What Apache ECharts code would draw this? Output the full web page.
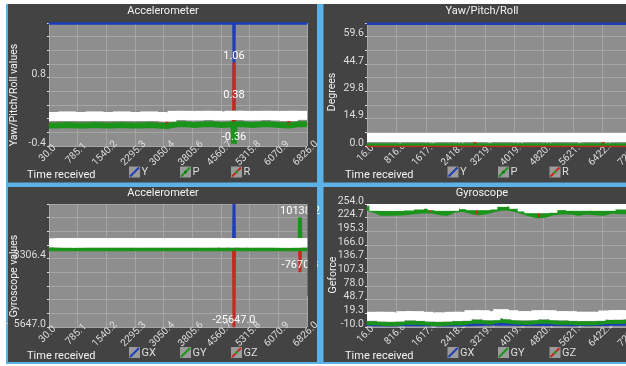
<!DOCTYPE html>
<html><head><meta charset="utf-8">
<script src="https://cdn.jsdelivr.net/npm/echarts@6/dist/echarts.min.js"></script>
<style>html,body{margin:0;padding:0;background:#fff}#c{width:626px;height:366px}</style>
</head><body><div id="c"></div><script>
// ---- tick labels ----
const accTicksX = ['30.0','785.1','1540.2','2295.3','3050.4','3805.6','4560.7','5315.8','6070.9','6826.0'];
const yprTicksX = ['16.0','816.8','1617.6','2418.3','3219.1','4019.9','4820.7','5621.4','6422.2','7223.0'];
const accTicksY = ['-0.4','','','','','0.8','','','',''];
const yprTicksY = ['0.0','','14.9','','29.8','','44.7','','59.6',''];
const gyroTicksY = ['-25647.0','','','','','-3306.4','','','',''];
const geTicksY = ['-10.0','19.3','48.7','78.0','107.3','136.7','166.0','195.3','224.7','254.0'];

// ---- accelerometer: yaw / pitch / roll values ----
const accYaw = [[30,1.75],[4890,1.75],[4903,0.38],[4916,1.75],[6826,1.75]];
const accRoll = [[30,-0.02],[3120,-0.02],[3138,0.04],[3156,-0.02],[4890,-0.02],[4903,1.06],[4916,-0.02],[6335,-0.02],[6352,0.04],[6370,-0.02],[6826,-0.02]];
const accPitch = [[30,-0.04],[270,-0.04],[510,-0.03],[750,-0.04],[990,-0.04],[1230,-0.03],[1470,-0.04],[1710,-0.04],[1950,-0.03],[2190,-0.04],[2430,-0.04],[2670,-0.03],[2910,-0.04],[3150,-0.05],[3390,-0.02],[3630,-0.02],[3870,-0.03],[4110,-0.02],[4350,-0.02],[4590,-0.03],[4890,-0.02],[4903,-0.36],[4916,-0.02],[5150,-0.02],[5390,-0.03],[5630,-0.02],[5870,-0.02],[6110,-0.03],[6350,-0.04],[6590,-0.02],[6826,-0.02]];

// ---- yaw / pitch / roll in degrees ----
const degYaw = [[16,66.7],[7223,66.7]];
const degRoll = [[16,0.3],[2930,0.3],[2953,2.0],[2976,0.3],[6410,0.3],[6434,2.0],[6458,0.3],[7223,0.3]];
const degPitch = [[16,0.8],[280,0.8],[540,0.8],[800,0.8],[1060,0.8],[1320,0.8],[1580,0.8],[1840,0.8],[2100,0.8],[2360,0.8],[2620,0.8],[2880,0.8],[3140,0.8],[3400,0.8],[3660,0.8],[3920,0.8],[4180,0.8],[4440,0.8],[4700,0.8],[4960,0.8],[5220,0.8],[5480,0.8],[5740,0.8],[6000,0.8],[6260,0.8],[6520,0.8],[6780,0.8],[7040,0.8],[7223,0.8]];

// ---- gyroscope values ----
const gyroX = [[30,-300],[4890,-300],[4903,14566.08],[4916,-300],[6826,-300]];
const gyroZ = [[30,-200],[3120,-200],[3138,300],[3156,-200],[4890,-200],[4903,-25647.0],[4916,-200],[6310,-200],[6325,300],[6340,-200],[6630,-200],[6642,-7670.3],[6654,-200],[6826,-200]];
const gyroY = [[30,-250],[270,-250],[510,-250],[750,-250],[990,-250],[1230,-250],[1470,-250],[1710,-250],[1950,-250],[2190,-250],[2430,-250],[2670,-250],[2910,-250],[3150,-250],[3390,-250],[3630,-250],[3870,-250],[4110,-250],[4350,-250],[4590,-250],[4890,-250],[5150,-250],[5390,-250],[5630,-250],[5870,-250],[6110,-250],[6350,-250],[6630,-250],[6642,10138.2],[6654,-250],[6826,-250]];

// ---- g-force traces ----
const gHighGreen = [[16,245.4],[188,241.1],[415,234.0],[687,234.0],[959,234.7],[1231,236.8],[1503,239.0],[1775,239.0],[2001,235.4],[2183,234.0],[2409,241.1],[2636,242.5],[2863,237.5],[3044,235.4],[3225,236.8],[3497,242.5],[3769,246.1],[3996,243.3],[4222,238.3],[4449,232.5],[4630,228.9],[4857,229.7],[5083,235.4],[5310,236.8],[5537,237.5],[5763,234.0],[5990,236.8],[6217,235.4],[6443,234.0],[6670,239.0],[6897,237.5],[7123,237.5],[7223,237.5]];
// short red stretches that show above the green trace (null = gap)
const gHighRed = [[1700,241.5],[1729,243.0],[1758,241.5],[1759,null],[2980,235.5],[3000,236.5],[3020,235.5],[3021,null],[4670,230.5],[4694,232.0],[4718,230.5]];
const gLowBlue = [[16,-4.0],[700,-4.5],[1400,-3.5],[2100,-4.5],[2800,-4.0],[3500,-2.5],[4200,-3.5],[4900,-3.0],[5600,-4.0],[6300,-3.5],[7223,-3.0]];
const gLowGreen = [[16,-2.1],[280,-2.1],[540,-3.6],[800,-3.6],[1060,-0.7],[1320,-0.7],[1580,-2.1],[1840,-3.6],[2100,-3.6],[2360,-2.1],[2620,-2.1],[2880,1.4],[3140,1.4],[3400,-0.7],[3660,3.6],[3920,1.4],[4180,-0.7],[4440,-0.7],[4700,1.4],[4960,1.4],[5220,-0.7],[5480,-0.7],[5740,-2.1],[6000,-2.1],[6260,-2.1],[6520,0.7],[6780,0.7],[7040,1.4],[7223,1.4]];

// ---- styling ----
const C = { blue:'#1c3db8', green:'#1a941a', red:'#c42a1e', plot:'#8e8e8e', split:'#a5a5a5',
            panel:'#434343', frame:'#5cb1e6', text:'#f2f2f2', tick:'#dedede' };
const FONT = 'Roboto';

const bandLabel = dist => ({ show:true, position:'top', distance:dist, color:'#fff', backgroundColor:'#fff',
  fontSize:8, lineHeight:9, padding:0, fontFamily:FONT, formatter: p => p.value[1].toFixed(2) });
const valueLabel = { show:true, position:'top', distance:0, color:'#fff', backgroundColor:'transparent',
  fontSize:11, lineHeight:12, padding:0, fontFamily:FONT };

// marked: { time: decimals } points whose value is printed
function items(points, band, marked) {
  marked = marked || {};
  const n = points.length;
  return points.map(([t, v], i) => {
    const it = { value:[t, v] };
    if (marked[t] !== undefined) {
      it.label = Object.assign({}, valueLabel, { formatter: v.toFixed(marked[t]) });
    } else if (band) {
      // keep the printed values inside the plot at both ends
      if (i < 2) it.label = { align:'left' };
      if (i >= n - 2) it.label = { align:'right' };
    }
    return it;
  });
}
function line(g, points, color, width, band, marked) {
  return {
    type:'line', xAxisIndex:g, yAxisIndex:g, data: items(points, band, marked),
    symbol:'circle', symbolSize:1, showSymbol:true, itemStyle:{ color }, connectNulls:false,
    lineStyle:{ color, width }, animation:false, silent:true,
    label: band ? bandLabel(band) : { show:false }
  };
}

const grids = [
  { left:49, top:23, width:258, height:123 },
  { left:367, top:23, width:265, height:123 },
  { left:49, top:204, width:258, height:123 },
  { left:367, top:204, width:265, height:123 }
];
function xAxis(g, ticks, min, max) {
  return { type:'value', gridIndex:g, min, max, interval:(max - min) / 9,
    axisLine:{ show:false }, axisTick:{ show:false },
    splitLine:{ show:true, lineStyle:{ color:C.split, width:1 } },
    axisLabel:{ rotate:45, align:'center', verticalAlign:'middle', margin:6, padding:[0,4,4,0], color:C.tick,
      fontSize:10, fontFamily:FONT, hideOverlap:false, formatter:(v, i) => ticks[i] || '' } };
}
function yAxis(g, ticks, min, max) {
  return { type:'value', gridIndex:g, min, max, interval:(max - min) / 9,
    axisLine:{ show:false }, axisTick:{ show:true, length:2, lineStyle:{ color:C.tick } },
    splitLine:{ show:true, lineStyle:{ color:C.split, width:1 } },
    axisLabel:{ margin:3, color:C.tick, fontSize:10.5, fontFamily:FONT, verticalAlign:'bottom',
      lineHeight:6, padding:0, hideOverlap:false, formatter:(v, i) => ticks[i] || '' } };
}

// ---- frame, titles, axis names, legends ----
const graphic = [];
const rect = (x, y, w, h, fill, z) => graphic.push({ type:'rect', shape:{ x, y, width:w, height:h }, style:{ fill }, z: z || -10, silent:true });
rect(0, 0, 626, 366, '#ffffff', -20);
rect(6, 4, 620, 360, C.frame, -15);
rect(8, 4, 309, 178.5, C.panel);
rect(323.5, 4, 320, 178.5, C.panel);
rect(8, 187, 309, 175, C.panel);
rect(323.5, 187, 320, 175, C.panel);
// printed values are cut at the plot edges
rect(307.5, 196, 9.5, 100, C.panel, 10);
rect(367, 188, 259, 16, C.panel, 10);
// long tick values are cut at the left margin
rect(8, 196, 6, 140, C.panel, 45);

const text = (x, y, s, opt) => graphic.push(Object.assign({ type:'text', x, y, silent:true, z:50,
  style:{ text:s, fill:C.text, font:'11px ' + FONT, textAlign:'left', textVerticalAlign:'middle' } }, opt || {}));
const ctext = (x, y, s) => text(x, y, s, { style:{ text:s, fill:C.text, font:'11px ' + FONT, textAlign:'center', textVerticalAlign:'middle' } });
const vtext = (x, y, s) => text(x, y, s, { rotation:Math.PI / 2, style:{ text:s, fill:C.text, font:'10.5px ' + FONT, textAlign:'center', textVerticalAlign:'middle' } });

ctext(163, 11, 'Accelerometer');
ctext(482, 11, 'Yaw/Pitch/Roll');
ctext(163, 193, 'Accelerometer');
ctext(482, 193, 'Gyroscope');
vtext(14, 95, 'Yaw/Pitch/Roll values');
vtext(332, 92, 'Degrees');
vtext(14, 276, 'Gyroscope values');
vtext(333, 275, 'Geforce');
text(27, 175, 'Time received');
text(345, 175, 'Time received');
text(27, 356.5, 'Time received');
text(345, 356.5, 'Time received');

function legendItem(x, y, color, label, dot) {
  graphic.push({ type:'rect', shape:{ x, y, width:11, height:11 }, style:{ fill:'#9b9b9b' }, z:40, silent:true });
  graphic.push({ type:'line', shape:{ x1:x + 1, y1:y + 10, x2:x + 10, y2:y + 1 }, style:{ stroke:color, lineWidth:2 }, z:41, silent:true });
  if (dot) graphic.push({ type:'circle', shape:{ cx:x + 5.5, cy:y + 5.5, r:1.6 }, style:{ fill:dot }, z:42, silent:true });
  text(x + 12.5, y + 6, label, { style:{ text:label, fill:C.tick, font:'11px ' + FONT, textAlign:'left', textVerticalAlign:'middle' } });
}
legendItem(129, 166.5, C.blue, 'Y');
legendItem(180, 166.5, C.green, 'P', '#0e7a0e');
legendItem(231, 166.5, C.red, 'R', '#2a9a2a');
legendItem(447.5, 166.5, C.blue, 'Y');
legendItem(498, 166.5, C.green, 'P', '#0e7a0e');
legendItem(549.5, 166.5, C.red, 'R', '#2a9a2a');
legendItem(129, 347, C.blue, 'GX');
legendItem(180, 347, C.green, 'GY');
legendItem(231, 347, C.red, 'GZ', '#2a9a2a');
legendItem(447.5, 347, C.blue, 'GX');
legendItem(498, 347, C.green, 'GY');
legendItem(549.5, 347, C.red, 'GZ', '#2a9a2a');

const chart = echarts.init(document.getElementById('c'), null, { renderer:'canvas' });
chart.setOption({
  animation:false,
  grid: grids.map(g => Object.assign({ show:true, backgroundColor:C.plot, borderWidth:0,
    containLabel:false, outerBoundsMode:'none' }, g)),
  xAxis: [
    xAxis(0, accTicksX, 30, 6826), xAxis(1, yprTicksX, 16, 7223),
    xAxis(2, accTicksX, 30, 6826), xAxis(3, yprTicksX, 16, 7223)
  ],
  yAxis: [
    yAxis(0, accTicksY, -0.4, 1.76), yAxis(1, yprTicksY, 0, 67.05),
    yAxis(2, gyroTicksY, -25647, 14566.08), yAxis(3, geTicksY, -10, 254)
  ],
  series: [
    line(0, accYaw, C.blue, 2.5, 0, { 4903:2 }),
    line(0, accRoll, C.red, 3, 0, { 4903:2 }),
    line(0, accPitch, C.green, 6, 4, { 4903:2 }),

    line(1, degYaw, C.blue, 2.5, 0),
    line(1, degRoll, C.red, 3, 0),
    line(1, degPitch, C.green, 2.5, 2),

    line(2, gyroX, C.blue, 3, 0),
    line(2, gyroZ, C.red, 3, 0, { 4903:1, 6642:1 }),
    line(2, gyroY, C.green, 4, 1.5, { 6642:1 }),

    line(3, gHighGreen, C.green, 5, 2),
    line(3, gHighRed, C.red, 4, 0),
    line(3, gLowBlue, C.blue, 4, 0),
    line(3, gLowGreen, C.green, 4, 2)
  ],
  graphic
});
</script></body></html>
